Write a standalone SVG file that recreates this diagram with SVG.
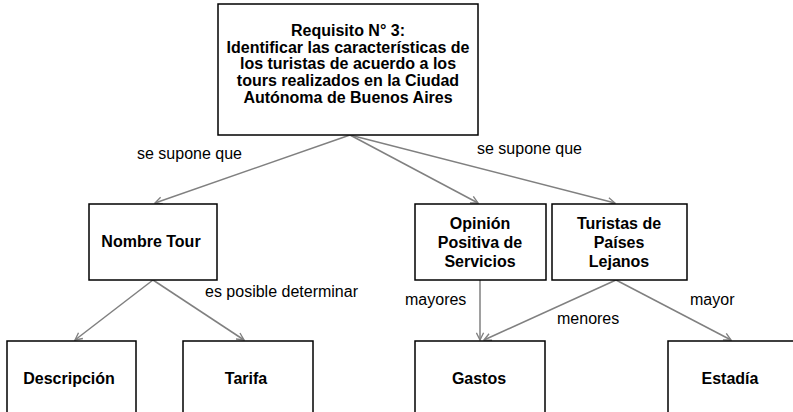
<svg xmlns="http://www.w3.org/2000/svg" width="793" height="412" viewBox="0 0 793 412">
<defs>
<marker id="arr" viewBox="0 0 10 10" refX="9" refY="5" markerWidth="9" markerHeight="9" orient="auto" markerUnits="userSpaceOnUse">
<path d="M1,1 L9,5 L1,9" fill="none" stroke="#808080" stroke-width="1.5"/>
</marker>
<style>
.box{fill:#fff;stroke:#000;stroke-width:1.5}
.t{font-family:"Liberation Sans",Arial,sans-serif;font-weight:bold;font-size:16px;fill:#000;text-anchor:middle}
.l{font-family:"Liberation Sans",Arial,sans-serif;font-size:16px;fill:#000}
.c{fill:none;stroke:#808080;stroke-width:1.5;marker-end:url(#arr)}
</style>
</defs>
<rect width="793" height="412" fill="#fff"/>
<g id="connectors">
<line class="c" x1="350" y1="135" x2="155" y2="203"/>
<line class="c" x1="350" y1="135" x2="478" y2="203"/>
<line class="c" x1="350" y1="135" x2="615" y2="203"/>
<line class="c" x1="153" y1="280" x2="75" y2="340"/>
<line class="c" x1="153" y1="280" x2="244" y2="340"/>
<line class="c" x1="480" y1="280" x2="480" y2="340"/>
<line class="c" x1="616" y1="280" x2="484" y2="340"/>
<line class="c" x1="616" y1="280" x2="731" y2="340"/>
<text class="l" x="137" y="159">se supone que</text>
<text class="l" x="477" y="154">se supone que</text>
<text class="l" x="205" y="297">es posible determinar</text>
<text class="l" x="405" y="305">mayores</text>
<text class="l" x="557" y="324">menores</text>
<text class="l" x="690" y="305">mayor</text>
</g>
<g id="n-req">
<rect class="box" x="218" y="4" width="260" height="131"/>
<text class="t" x="348" y="36">Requisito N° 3:</text>
<text class="t" x="348" y="52.7">Identificar las características de</text>
<text class="t" x="348" y="69.4">los turistas de acuerdo a los</text>
<text class="t" x="348" y="86.1">tours realizados en la Ciudad</text>
<text class="t" x="348" y="102.8">Autónoma de Buenos Aires</text>
</g>
<g id="n-nombre">
<rect class="box" x="89" y="204" width="128" height="76"/>
<text class="t" x="151" y="247">Nombre Tour</text>
</g>
<g id="n-opinion">
<rect class="box" x="415" y="204" width="131" height="76"/>
<text class="t" x="480" y="229">Opinión</text>
<text class="t" x="480" y="248">Positiva de</text>
<text class="t" x="480" y="267">Servicios</text>
</g>
<g id="n-turistas">
<rect class="box" x="552" y="204" width="135" height="76"/>
<text class="t" x="619" y="229">Turistas de</text>
<text class="t" x="619" y="248">Países</text>
<text class="t" x="619" y="267">Lejanos</text>
</g>
<g id="n-descripcion">
<rect class="box" x="7" y="341" width="129" height="80"/>
<text class="t" x="69" y="384">Descripción</text>
</g>
<g id="n-tarifa">
<rect class="box" x="183" y="341" width="130" height="80"/>
<text class="t" x="246" y="384">Tarifa</text>
</g>
<g id="n-gastos">
<rect class="box" x="415" y="341" width="130" height="80"/>
<text class="t" x="479" y="384">Gastos</text>
</g>
<g id="n-estadia">
<rect class="box" x="668" y="341" width="140" height="80"/>
<text class="t" x="730" y="384">Estadía</text>
</g>
</svg>
